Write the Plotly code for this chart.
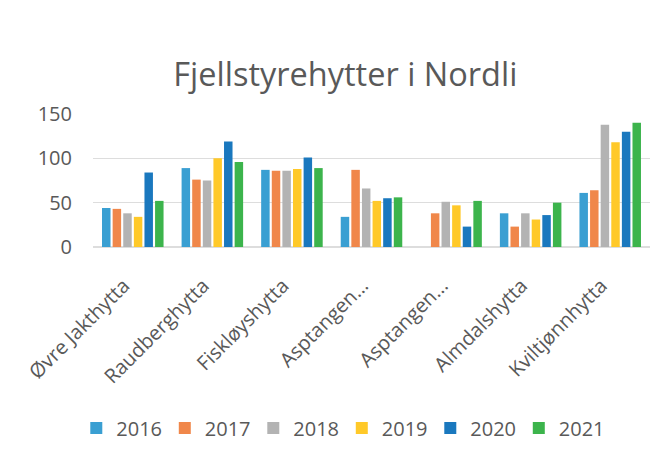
import plotly.graph_objects as go

categories = ["Øvre Jakthytta", "Raudberghytta", "Fiskløyshytta", "Asptangen...",
              "Asptangen...", "Almdalshytta", "Kviltjønnhytta"]
years = ["2016", "2017", "2018", "2019", "2020", "2021"]
v2016 = [44, 89, 87, 34, None, 38, 61]
v2017 = [43, 76, 86, 87, 38, 23, 64]
v2018 = [38, 75, 86, 66, 51, 38, 138]
v2019 = [34, 100, 88, 52, 47, 31, 118]
v2020 = [84, 119, 101, 55, 23, 36, 130]
v2021 = [52, 96, 89, 56, 52, 50, 140]
series = [v2016, v2017, v2018, v2019, v2020, v2021]
colors = ["#3A9FD2", "#F0874A", "#B3B3B3", "#FFC929", "#1A78BE", "#3CB44C"]

x_idx = list(range(len(categories)))

fig = go.Figure()
for name, vals, col in zip(years, series, colors):
    fig.add_trace(go.Bar(x=x_idx, y=vals, name=name, marker=dict(color=col, line=dict(width=0))))

font_family = "Open Sans, Noto Sans, sans-serif"
fig.update_layout(
    width=668, height=461,
    paper_bgcolor="white", plot_bgcolor="white",
    barmode="group", bargap=0.2, bargroupgap=0.2,
    margin=dict(l=85, r=26, t=106, b=222, autoexpand=False),
    title=dict(text="Fjellstyrehytter i Nordli", x=0.505, xanchor="center",
               y=0.855, yanchor="middle",
               font=dict(family=font_family, size=32.5, color="#595959")),
    font=dict(family=font_family, color="#595959", size=20),
    showlegend=True,
    legend=dict(orientation="h", x=-0.03, xanchor="left", y=-1.36, yanchor="middle",
                font=dict(size=20, color="#595959"), itemwidth=30,
                entrywidth=43.5, entrywidthmode="pixels",
                traceorder="normal"),
    xaxis=dict(tickmode="array", tickvals=x_idx, ticktext=categories,
               tickangle=-45, showgrid=False, zeroline=False, showline=False,
               automargin=False, ticklabelstandoff=22, ticklabelshift=-9,
               range=[-0.5, len(categories) - 0.5],
               tickfont=dict(size=20, color="#595959")),
    yaxis=dict(range=[0, 150], tickvals=[0, 50, 100, 150], showgrid=True,
               gridcolor="#DDDDDD", gridwidth=1, zeroline=True, zerolinecolor="#DDDDDD",
               showline=False, ticks="", ticklabelstandoff=20, automargin=False,
               tickfont=dict(size=20, color="#595959")),
)
fig.write_html("out.html")
